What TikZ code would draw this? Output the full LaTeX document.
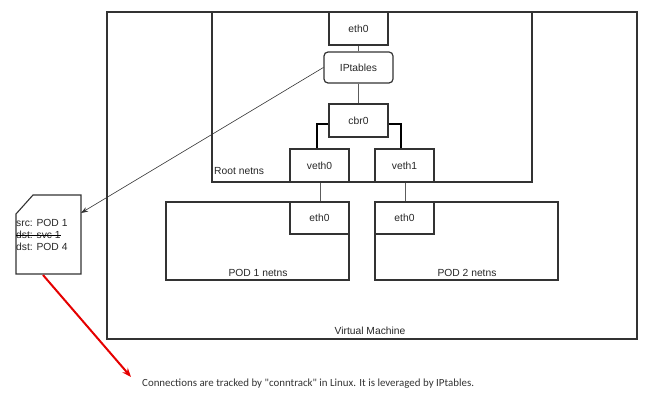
\documentclass[tikz,border=0pt]{standalone}
\usepackage{fontspec}
\setmainfont{Liberation Sans}
\newfontfamily\calib{Carlito}
\usetikzlibrary{arrows.meta}
\definecolor{edge}{HTML}{333333}
\tikzset{
  x=1pt,y=-1pt,
  box/.style={draw=edge,line width=1.2pt},
  lbl/.style={font=\fontsize{10.3}{12}\selectfont,text=black!85,inner sep=0pt},
  wire/.style={draw=edge!80,line width=0.8pt},
  bwire/.style={draw=black,line width=1.2pt}
}
\begin{document}
\begin{tikzpicture}
\useasboundingbox (0,0) rectangle (656,401);
% boxes
\draw[box] (107,12) rectangle (637,339);
\draw[box] (212,12) rectangle (532,182);
\draw[box] (166,202) rectangle (349,280);
\draw[box] (375,202) rectangle (558,280);
% interfaces
\node[box,minimum width=59pt,minimum height=33pt,inner sep=0pt] (eth) at (358.5,28.5) {};
\node[lbl] at (eth) {eth0};
\node[box,rounded corners=4pt,minimum width=69pt,minimum height=31pt,inner sep=0pt] (ipt) at (358.5,67.5) {};
\node[lbl] at (ipt) {IPtables};
\node[box,minimum width=59pt,minimum height=33pt,inner sep=0pt] (cbr) at (358.5,120.5) {};
\node[lbl] at (cbr) {cbr0};
\node[box,minimum width=59pt,minimum height=33pt,inner sep=0pt] (v0) at (319.5,165.5) {};
\node[lbl] at (v0) {veth0};
\node[box,minimum width=59pt,minimum height=33pt,inner sep=0pt] (v1) at (404.5,165.5) {};
\node[lbl] at (v1) {veth1};
\node[box,minimum width=59pt,minimum height=32pt,inner sep=0pt] (p0) at (319.5,218) {};
\node[lbl] at (p0) {eth0};
\node[box,minimum width=59pt,minimum height=32pt,inner sep=0pt] (p1) at (404.5,218) {};
\node[lbl] at (p1) {eth0};
% labels
\node[lbl,anchor=west] (rl) at (214,171) {Root netns};
\node[lbl] (l1) at (258,273) {POD 1 netns};
\node[lbl] (l2) at (467,273) {POD 2 netns};
\node[lbl] (l3) at (370,331) {Virtual Machine};
% connectors
\draw[wire] (eth.south) -- (ipt.north);
\draw[wire] (ipt.south) -- (cbr.north);
\draw[bwire] (cbr.west |- 0,124) -| (v0.north -| 317,0);
\draw[bwire] (cbr.east |- 0,124) -| (v1.north -| 401,0);
\draw[wire] (v0.south -| 320,0) -- (p0.north -| 320,0);
\draw[wire] (v1.south -| 405,0) -- (p1.north -| 405,0);
% document
\draw[box,line width=1.1pt] (33,195) -- (81,195) -- (81,274) -- (16,274) -- (16,214) -- cycle;
\coordinate (doc) at (81,213);
\node[lbl,anchor=west] (s1) at (16,223) {src: POD 1};
\node[lbl,anchor=west] (s2) at (16,235) {dst: svc 1};
\draw[black,line width=0.9pt] (s2.west) -- (s2.east);
\node[lbl,anchor=west] (s3) at (16,247) {dst: POD 4};
\draw[draw=edge,line width=0.6pt,-{Stealth[length=7pt,width=5pt]}] (ipt.west) -- (doc);
% red arrow
\coordinate (ra) at (43,275);
\coordinate (rb) at (131,377);
\draw[red!90!black,line width=2pt,-{Stealth[length=9pt,width=7pt]}] (ra) -- (rb);
\node[anchor=west,inner sep=0pt,font=\calib\fontsize{10.9}{12}\selectfont,text=black!80] (note) at (142,384) {Connections are tracked by "conntrack" in Linux. It is leveraged by IPtables.};
\end{tikzpicture}
\end{document}
